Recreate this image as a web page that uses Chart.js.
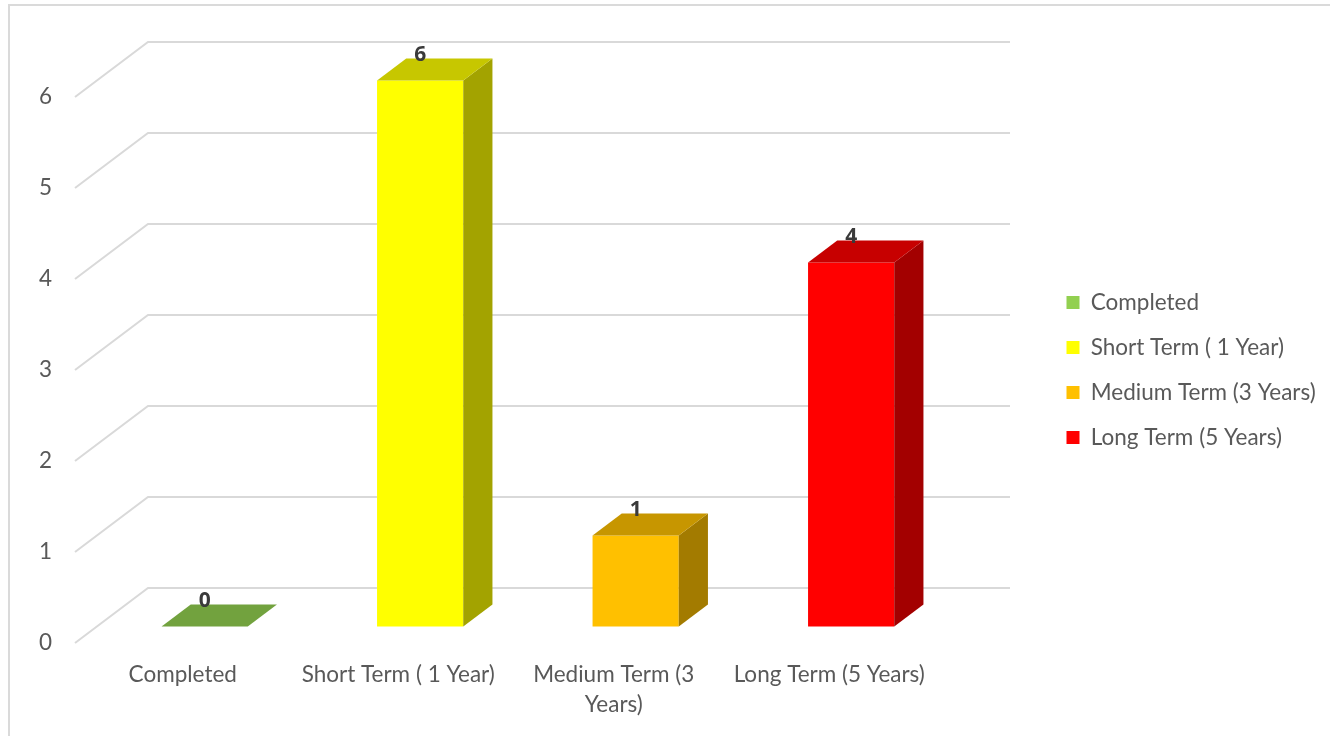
<!DOCTYPE html>
<html>
<head>
<meta charset="utf-8">
<script src="https://cdn.jsdelivr.net/npm/chart.js@4.4.0/dist/chart.umd.min.js"></script>
<style>
  body { margin: 0; background: #fff; }
  #wrap { position: relative; width: 1330px; height: 736px; overflow: hidden; }
  #frame { position: absolute; left: 8px; top: 4px; width: 1400px; height: 800px; border: 2px solid #dadada; box-sizing: border-box; }
  #myChart { position: absolute; left: 0; top: 0; }
</style>
</head>
<body>
<div id="wrap">
  <div id="frame"></div>
  <canvas id="myChart" width="1330" height="736"></canvas>
</div>
<script>
const categories = ["Completed", "Short Term ( 1 Year)", "Medium Term (3 Years)", "Long Term (5 Years)"];
const values = [0, 6, 1, 4];
const barColors = ["#92D050", "#FFFF00", "#FFC000", "#FF0000"];
const yMin = 0;
const yMax = 6;
const yStep = 1;

const fontFamily = "Lato, 'Open Sans', sans-serif";
const fontSize = 22.5;
const textColor = "#595959";
const gridColor = "#d9d9d9";

// depth of the 3d box (back wall offset) and where the bars sit in it
const DX = 73;
const DY = -55;
const barFront = 0.3;
const barBack = 0.7;

const measureCtx = document.createElement("canvas").getContext("2d");

function wrapLabel(text, maxWidth) {
  measureCtx.font = fontSize + "px " + fontFamily;
  const words = text.split(" ");
  const lines = [];
  let line = "";
  for (const w of words) {
    const test = line ? line + " " + w : w;
    if (line && measureCtx.measureText(test).width > maxWidth) {
      lines.push(line);
      line = w;
    } else {
      line = test;
    }
  }
  lines.push(line);
  return lines.length > 1 ? lines : lines[0];
}

function shade(hex, f) {
  const n = parseInt(hex.slice(1), 16);
  const r = Math.round(((n >> 16) & 255) * f);
  const g = Math.round(((n >> 8) & 255) * f);
  const b = Math.round((n & 255) * f);
  return "rgb(" + r + "," + g + "," + b + ")";
}

// legend width so the plot lands where it should
measureCtx.font = fontSize + "px " + fontFamily;
const legendPad = 22.5;
const legendBox = 13;
const maxText = Math.max(...categories.map((c) => measureCtx.measureText(c).width));
const legendW = legendPad + legendBox + fontSize / 2 + maxText + 10;
const gapRight = 107;
const padRight = Math.max(0, 1330 - 937 - gapRight - legendW);

const threeD = {
  id: "threeD",
  beforeDatasetsDraw(chart) {
    const { ctx, chartArea, scales } = chart;
    ctx.save();
    ctx.strokeStyle = gridColor;
    ctx.lineWidth = 2;
    for (let v = yMin; v <= yMax; v += yStep) {
      const py = scales.y.getPixelForValue(v);
      ctx.beginPath();
      ctx.moveTo(chartArea.left, py);
      ctx.lineTo(chartArea.left + DX, py + DY);
      ctx.lineTo(chartArea.right + DX, py + DY);
      ctx.stroke();
    }
    ctx.restore();
  },
  beforeDatasetDraw() {
    return false;
  },
  afterDatasetsDraw(chart) {
    const { ctx } = chart;
    const meta = chart.getDatasetMeta(0);
    const fx = DX * barFront, fy = DY * barFront;
    const bx = DX * barBack, by = DY * barBack;
    ctx.save();
    meta.data.forEach((bar, i) => {
      const c = barColors[i];
      const l = bar.x - bar.width / 2 + fx;
      const r = bar.x + bar.width / 2 + fx;
      const t = bar.y + fy;
      const b = bar.base + fy;
      const ox = bx - fx, oy = by - fy;
      // front
      if (b - t > 0.5) {
        ctx.fillStyle = c;
        ctx.fillRect(l, t, r - l, b - t);
        // side
        ctx.fillStyle = shade(c, 0.64);
        ctx.beginPath();
        ctx.moveTo(r, t);
        ctx.lineTo(r + ox, t + oy);
        ctx.lineTo(r + ox, b + oy);
        ctx.lineTo(r, b);
        ctx.closePath();
        ctx.fill();
      }
      // top
      ctx.fillStyle = shade(c, 0.78);
      ctx.beginPath();
      ctx.moveTo(l, t);
      ctx.lineTo(l + ox, t + oy);
      ctx.lineTo(r + ox, t + oy);
      ctx.lineTo(r, t);
      ctx.closePath();
      ctx.fill();

      ctx.fillStyle = "#3a3a3a";
      ctx.font = "bold 21px 'Open Sans', Lato, sans-serif";
      ctx.textAlign = "center";
      ctx.textBaseline = "middle";
      ctx.fillText(String(values[i]), (l + r) / 2, t + oy - 3);
    });
    ctx.restore();
  },
};

const ctx = document.getElementById("myChart");

const newChart = new Chart(ctx, {
  type: "bar",
  data: {
    labels: categories,
    datasets: [
      {
        label: "Projects",
        data: values,
        backgroundColor: barColors,
        categoryPercentage: 1,
        barPercentage: 0.4,
      },
    ],
  },
  options: {
    responsive: false,
    animation: false,
    layout: {
      padding: { left: 0, top: 97, right: padRight, bottom: 0 },
    },
    scales: {
      x: {
        grid: { display: false, drawTicks: false },
        border: { display: false },
        ticks: {
          color: textColor,
          padding: 17,
          maxRotation: 0,
          autoSkip: false,
          font: { family: fontFamily, size: fontSize, lineHeight: 1.333 },
          callback: (v, i) => wrapLabel(categories[i], 210),
        },
        afterFit: (s) => {
          s.height = 93;
        },
      },
      y: {
        min: yMin,
        max: yMax,
        grid: { display: false, drawTicks: false },
        border: { display: false },
        ticks: {
          stepSize: yStep,
          color: textColor,
          padding: 23,
          font: { family: fontFamily, size: fontSize },
        },
        afterFit: (s) => {
          s.width = 75;
        },
      },
      y2: {
        position: "right",
        min: 0,
        max: 1,
        grid: { display: false, drawTicks: false },
        border: { display: false },
        ticks: { display: false },
        afterFit: (s) => {
          s.width = gapRight;
        },
      },
    },
    plugins: {
      tooltip: { enabled: false },
      legend: {
        position: "right",
        fullSize: false,
        maxWidth: 400,
        labels: {
          boxWidth: legendBox,
          boxHeight: legendBox,
          padding: legendPad,
          color: textColor,
          font: { family: fontFamily, size: fontSize },
          generateLabels: () =>
            categories.map((c, i) => ({
              text: c,
              fillStyle: barColors[i],
              strokeStyle: barColors[i],
              lineWidth: 0,
              hidden: false,
              index: i,
              fontColor: textColor,
            })),
        },
      },
    },
  },
  plugins: [threeD],
});
</script>
</body>
</html>
